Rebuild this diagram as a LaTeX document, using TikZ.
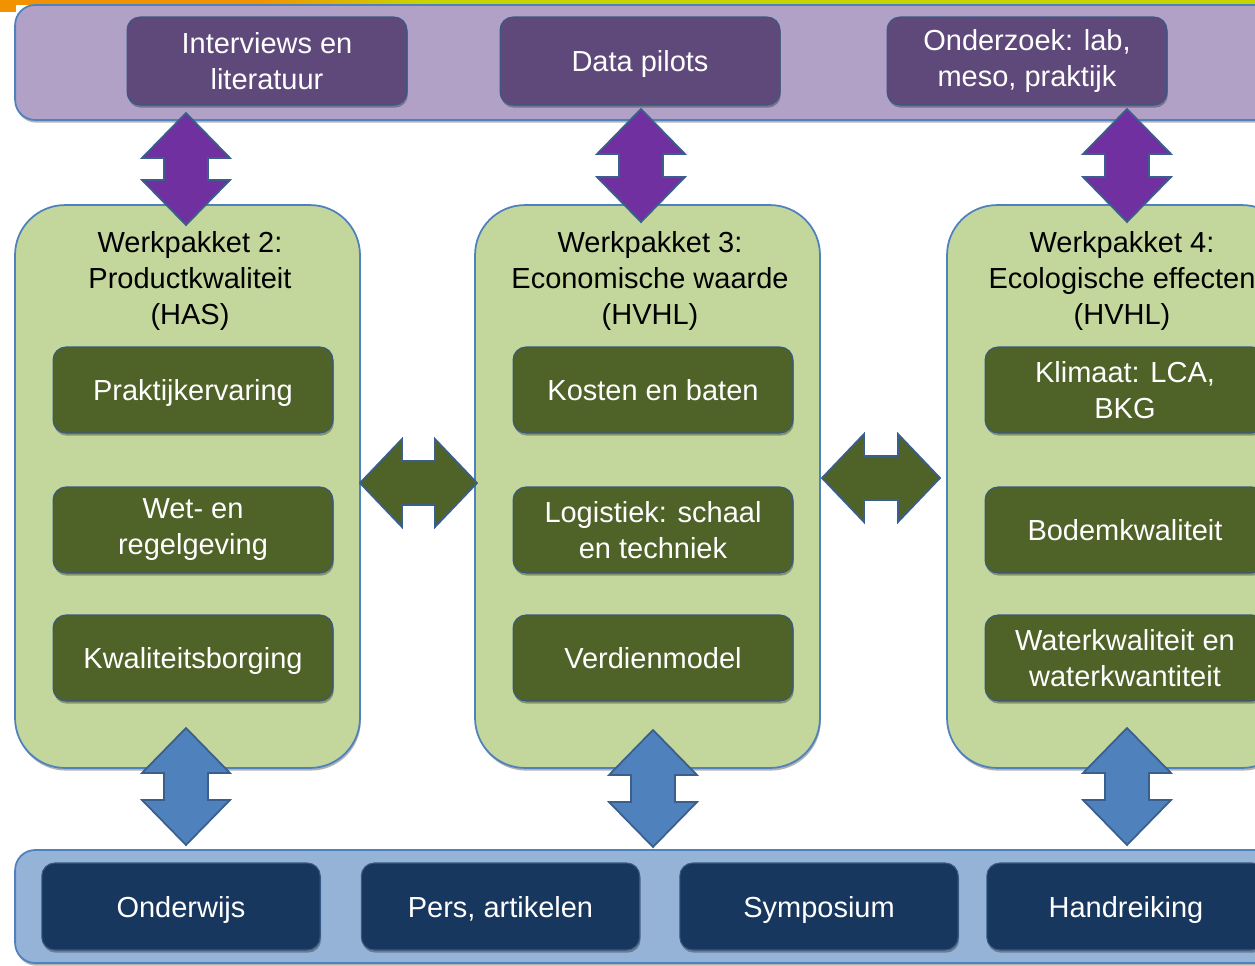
\documentclass[tikz,border=0pt]{standalone}
\usepackage{fontspec}
\setmainfont{Liberation Sans}
\usetikzlibrary{shadows}
\definecolor{bandpurple}{HTML}{B2A1C7}
\definecolor{boxpurple}{HTML}{5F497A}
\definecolor{arrpurple}{HTML}{7030A0}
\definecolor{panelgreen}{HTML}{C3D69B}
\definecolor{boxgreen}{HTML}{4F6228}
\definecolor{arrblue}{HTML}{4F81BD}
\definecolor{edgeblue}{HTML}{4F81BD}
\definecolor{arredge}{HTML}{3A5F8C}
\definecolor{bandblue}{HTML}{95B3D7}
\definecolor{boxnavy}{HTML}{17375E}
\definecolor{toporange}{HTML}{F39200}
\definecolor{topgreen}{HTML}{C8D400}
\newcommand\vdarr[4]{%
  \draw[#1] (#2,#3) -- (#2+44,#3+45) -- (#2+22,#3+45) -- (#2+22,#4-45) -- (#2+44,#4-45)
    -- (#2,#4) -- (#2-44,#4-45) -- (#2-22,#4-45) -- (#2-22,#3+45) -- (#2-44,#3+45) -- cycle;}
\newcommand\hdarr[4]{%
  \draw[#1] (#3,#2) -- (#3+42,#2-44) -- (#3+42,#2-22) -- (#4-42,#2-22) -- (#4-42,#2-44)
    -- (#4,#2) -- (#4-42,#2+44) -- (#4-42,#2+22) -- (#3+42,#2+22) -- (#3+42,#2+44) -- cycle;}
\begin{document}
\begin{tikzpicture}[x=0.02cm,y=-0.02cm,
  every node/.style={font=\fontsize{16.5}{20.5}\selectfont},
  shad/.style={drop shadow={shadow xshift=0.5pt,shadow yshift=-1.5pt,opacity=0.3,fill=black}},
  band/.style={draw=edgeblue,line width=1pt,rounded corners=0.4cm,minimum width=25.5cm,shad},
  panel/.style={draw=edgeblue,line width=1pt,fill=panelgreen,rounded corners=1cm,minimum width=6.9cm,minimum height=11.26cm,shad},
  darkbox/.style={draw=edgeblue!70!black,line width=0.6pt,rounded corners=0.26cm,minimum width=5.6cm,minimum height=1.72cm,align=center,text=white,inner sep=0pt,shad},
  one/.style={text height=12pt,text depth=0pt},
  pbox/.style={darkbox,fill=boxpurple,minimum height=1.76cm},
  gbox/.style={darkbox,fill=boxgreen},
  nbox/.style={darkbox,fill=boxnavy,minimum width=5.57cm,minimum height=1.74cm},
  title/.style={align=center,text=black,inner sep=0pt},
  parr/.style={fill=arrpurple,draw=arredge,line width=1pt,line join=miter},
  garr/.style={fill=boxgreen,draw=arredge,line width=1pt,line join=miter},
  barr/.style={fill=arrblue,draw=arredge,line width=1pt,line join=miter}]
\useasboundingbox (0,0) rectangle (1255,965);
\clip (0,0) rectangle (1255,965);
\fill[white] (0,0) rectangle (1255,965);
% top strip
\fill[toporange] (0,0) rectangle (260,5);
\shade[left color=toporange,right color=topgreen] (260,0) rectangle (420,5);
\fill[topgreen] (420,0) rectangle (1255,5);
\fill[toporange] (0,0) rectangle (16,12);
% top band
\node[band,fill=bandpurple,minimum height=2.3cm] (topband) at (652.5,62.5) {};
\node[pbox] (interviews) at (267,61) {Interviews en\\literatuur};
\node[pbox,one] (pilots) at (640,61) {Data pilots};
\node[pbox] (onderzoek) at (1027,61) {Onderzoek: lab,\\meso, praktijk};
% bottom band
\node[band,fill=bandblue,minimum height=2.26cm] (botband) at (652.5,906.5) {};
\node[nbox,one] (onderwijs) at (181,906.5) {Onderwijs};
\node[nbox,one] (pers) at (500.5,906.5) {Pers, artikelen};
\node[nbox,one] (symposium) at (819,906.5) {Symposium};
\node[nbox,one] (handreiking) at (1126,906.5) {Handreiking};
% panels
\node[panel] (wp2) at (187.5,486.5) {};
\node[panel] (wp3) at (647.5,486.5) {};
\node[panel] (wp4) at (1119.5,486.5) {};
\node[title] (t2) at (190,281) {Werkpakket 2:\\Productkwaliteit\\(HAS)};
\node[title] (t3) at (650,281) {Werkpakket 3:\\Economische waarde\\(HVHL)};
\node[title] (t4) at (1122,281) {Werkpakket 4:\\Ecologische effecten\\(HVHL)};
\node[gbox,one] (a1) at (193,390) {Praktijkervaring};
\node[gbox] (a2) at (193,530) {Wet- en\\regelgeving};
\node[gbox,one] (a3) at (193,658) {Kwaliteitsborging};
\node[gbox,one] (b1) at (653,390) {Kosten en baten};
\node[gbox] (b2) at (653,530) {Logistiek: schaal\\en techniek};
\node[gbox,one] (b3) at (653,658) {Verdienmodel};
\node[gbox] (c1) at (1125,390) {Klimaat: LCA,\\BKG};
\node[gbox,one] (c2) at (1125,530) {Bodemkwaliteit};
\node[gbox] (c3) at (1125,658) {Waterkwaliteit en\\waterkwantiteit};
% arrows
\vdarr{parr}{186}{113}{225}
\vdarr{parr}{641}{109}{222}
\vdarr{parr}{1127}{109}{222}
\vdarr{barr}{186}{728}{845}
\vdarr{barr}{653}{730}{847}
\vdarr{barr}{1127}{728}{845}
\hdarr{garr}{483}{360}{477}
\hdarr{garr}{478}{822}{940}
\end{tikzpicture}
\end{document}
